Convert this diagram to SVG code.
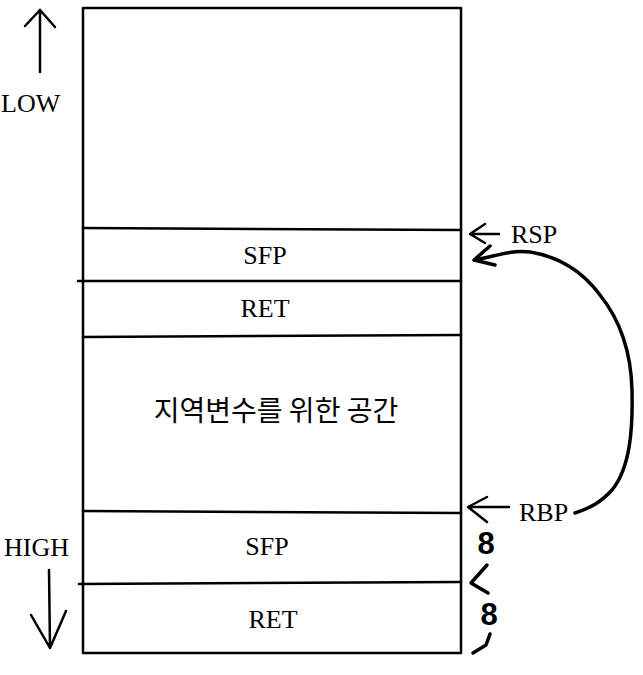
<svg xmlns="http://www.w3.org/2000/svg" width="643" height="675" viewBox="0 0 643 675">
<style>
.ln{stroke:#000;stroke-width:2.5;fill:none;stroke-linecap:round;stroke-linejoin:round}
.hd{stroke:#000;stroke-width:3.5;fill:none;stroke-linecap:round;stroke-linejoin:round}
.t{font-family:"Liberation Serif","DejaVu Serif",serif;font-size:26px;fill:#000}
.k{font-family:"Noto Sans CJK KR","Noto Sans",sans-serif;font-size:28px;fill:#000}
.n{font-family:"Liberation Sans","DejaVu Sans",sans-serif;font-size:31px;font-weight:bold;fill:#000}
</style>
<rect width="643" height="675" fill="#fff"/>
<g id="stack">
<rect x="83" y="8" width="378" height="645" class="ln"/>
</g>
<g id="slot-sfp1">
<path d="M83 228 L461 230" class="ln"/>
<text x="265" y="264" text-anchor="middle" class="t">SFP</text>
</g>
<g id="slot-ret1">
<path d="M78 281 L461 281" class="ln"/>
<text x="265" y="317" text-anchor="middle" class="t">RET</text>
</g>
<g id="slot-locals">
<path d="M83 337 L461 335" class="ln"/>
<text x="276" y="421" text-anchor="middle" class="k">지역변수를 위한 공간</text>
</g>
<g id="slot-sfp2">
<path d="M83 511 L461 513" class="ln"/>
<text x="267" y="555" text-anchor="middle" class="t">SFP</text>
</g>
<g id="slot-ret2">
<path d="M79 584 L461 582" class="ln"/>
<text x="273" y="628" text-anchor="middle" class="t">RET</text>
</g>
<g id="low">
<path d="M40 72 L40 10 M25 26 L40 10 L55 27" class="ln"/>
<text x="1" y="112" class="t">LOW</text>
</g>
<g id="high">
<text x="4" y="556" class="t">HIGH</text>
<path d="M49 570 L50 648 M31 615 L50 648 L66 611" class="ln"/>
</g>
<g id="rsp">
<text x="511" y="243" class="t">RSP</text>
</g>
<g id="rbp">
<text x="519" y="521" class="t">RBP</text>
</g>
<g id="sizes">
<text x="486" y="554" text-anchor="middle" class="n">8</text>
<text x="489" y="625" text-anchor="middle" class="n">8</text>
<path d="M487 565 L471 583 L488 593" class="hd"/>
<path d="M490 634 L486 645 L473 653" class="hd"/>
</g>
<g id="connectors">
<path d="M499 234 L470 234 M485 224 L470 234 L485 243" class="ln"/>
<path d="M509 507 L468 507 M487 497 L468 507 L487 522" class="ln"/>
<path d="M575 513 C 590 508 600 503 612 490 C 630 468 633 430 632 390 C 631 350 620 320 600 295 C 580 268 555 256 530 252 C 510 250 500 255 475 260" class="hd"/>
<path d="M490 246 L474 260 L495 265" class="hd"/>
</g>
</svg>
